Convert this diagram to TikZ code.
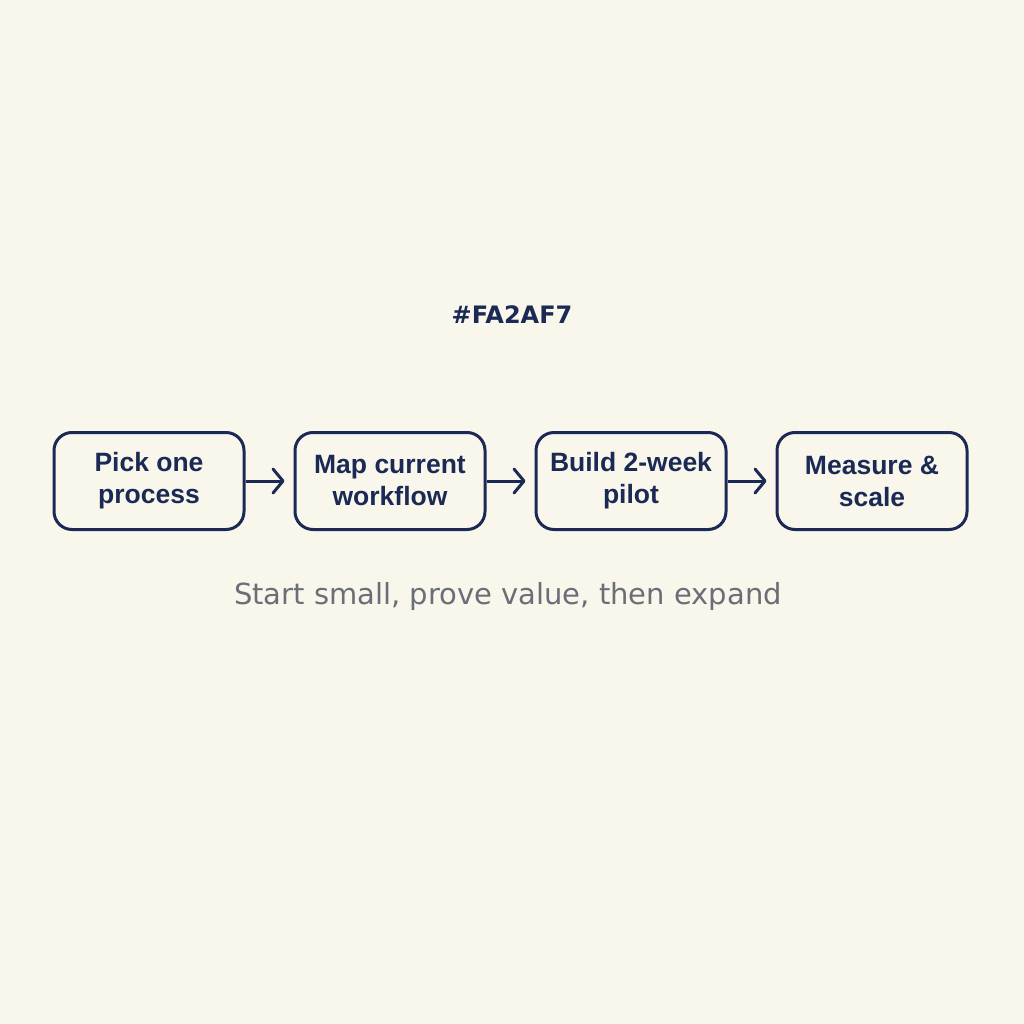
\documentclass[tikz,border=0pt]{standalone}
\usepackage{fontspec}
\setmainfont{DejaVu Sans}
\newfontfamily\boxfont{Liberation Sans}
\usepackage{tikz}
\usetikzlibrary{positioning, arrows.meta}
\definecolor{navy}{HTML}{1B2A55}
\definecolor{cream}{HTML}{F9F6EC}
\definecolor{slate}{HTML}{6B6E76}

\begin{document}
\begin{tikzpicture}[x=1pt, y=-1pt,
	stepbox/.style={draw=navy, line width=3pt, rounded corners=18pt, minimum width=190pt, minimum height=97pt, align=center, text=navy, font=\boxfont\bfseries\fontsize{26.5}{32}\selectfont, inner sep=0pt},
	flow/.style={draw=navy, line width=3pt, -{Straight Barb[length=10pt, width=24pt, line cap=round, line join=round]}, shorten >=9pt}]
% background and page size
	\fill[cream] (0,0) rectangle (1024,1024);
	\useasboundingbox (0,0) rectangle (1024,1024);
% title
	\node[text=navy, font=\bfseries\fontsize{24}{28}\selectfont] (title) at (512,315) {\#FA2AF7};
% the four steps
	\node[stepbox] (pick) at (149,481) {Pick one\\process};
	\node[stepbox, right=48pt of pick] (map) {Map current\\workflow};
	\node[stepbox, right=48pt of map] (pilot) {Build 2-week\\pilot};
	\node[stepbox, right=48pt of pilot] (scale) {Measure \&\\scale};
% arrows
	\draw[flow] (pick) -- (map);
	\draw[flow] (map) -- (pilot);
	\draw[flow] (pilot) -- (scale);
% caption
	\node[text=slate, font=\fontsize{29}{34}\selectfont] (caption) at (508,596) {Start small, prove value, then expand};
\end{tikzpicture}
\end{document}
